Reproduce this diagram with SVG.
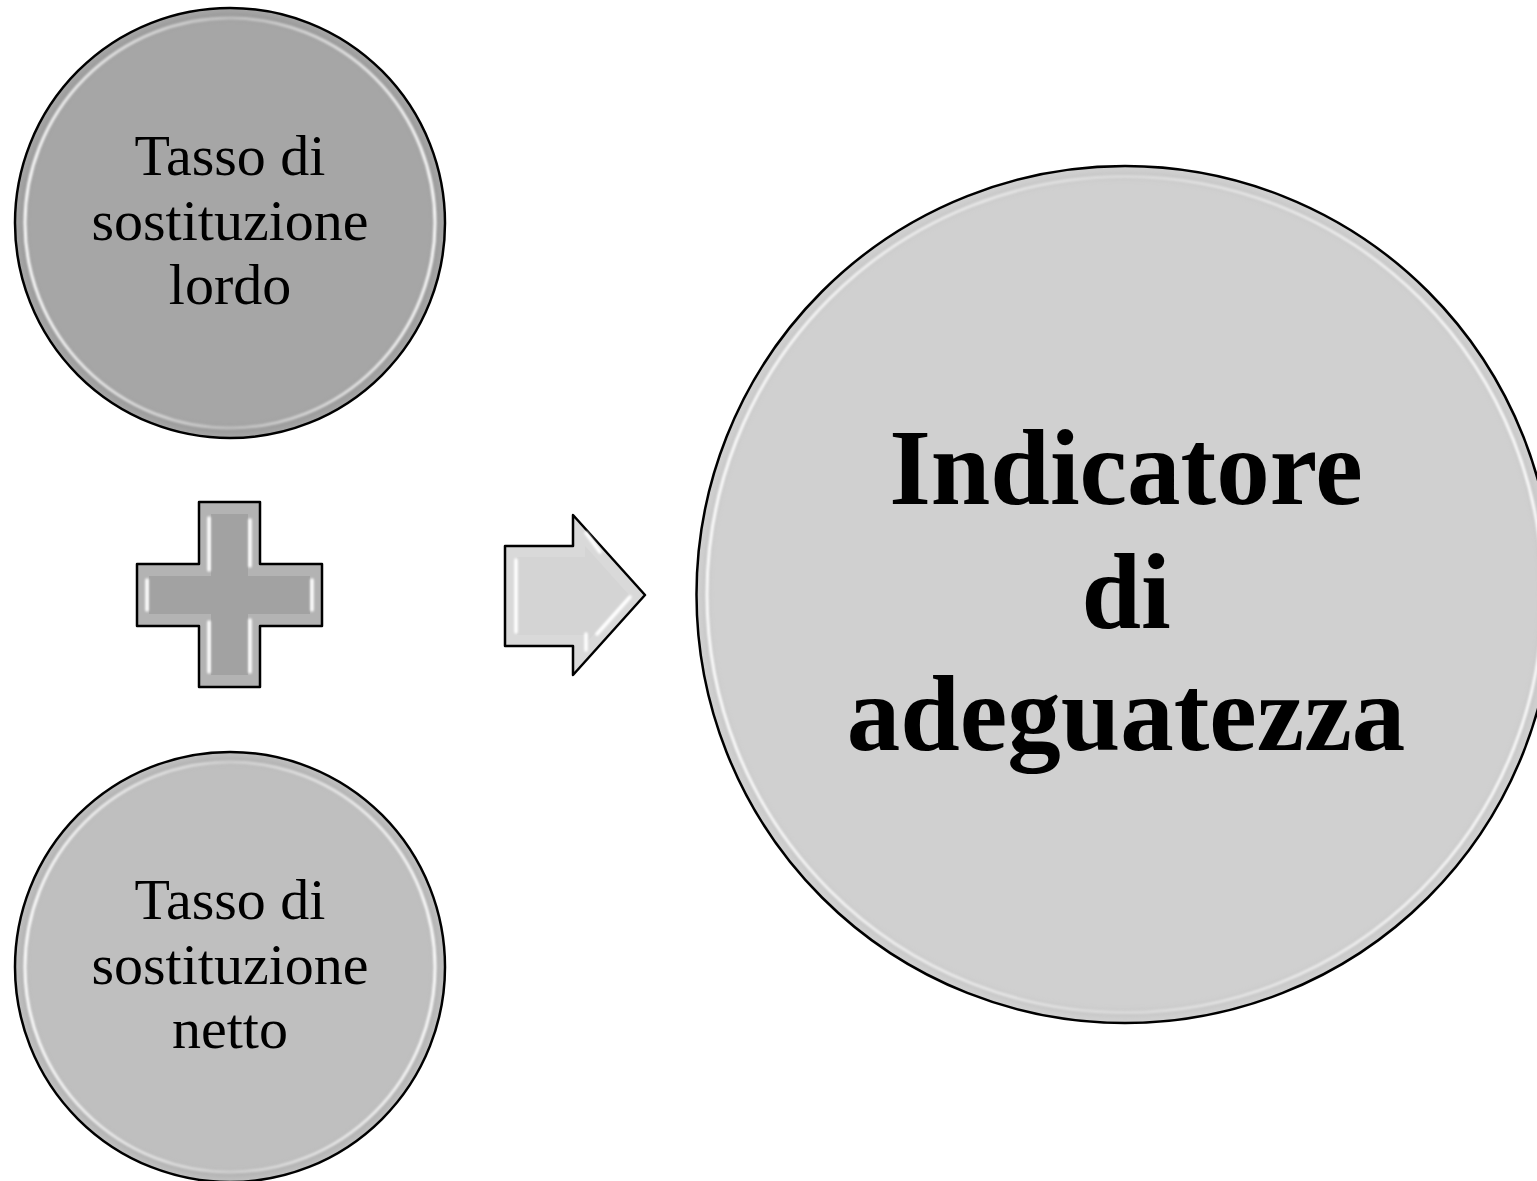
<svg xmlns="http://www.w3.org/2000/svg" width="1537" height="1181" viewBox="0 0 1537 1181">
  <style>
    .edge { stroke: #000; stroke-width: 2.5; }
    .small { font-family: "Palatino Linotype", "Book Antiqua", Palatino, "Liberation Serif", serif; font-size: 58px; fill: #000; text-anchor: middle; }
    .big { font-family: "Palatino Linotype", "Book Antiqua", Palatino, "Liberation Serif", serif; font-size: 107px; font-weight: bold; fill: #000; text-anchor: middle; }
    .shine { fill: none; stroke: url(#ringGrad); filter: url(#glow); }
    .hl { stroke: #fff; stroke-width: 3.5; stroke-linecap: round; filter: url(#glow); }
  </style>
  <defs>
    <linearGradient id="ringGrad" x1="0" y1="0" x2="1" y2="0">
      <stop offset="0" stop-color="#fff" stop-opacity="0.95"/>
      <stop offset="0.5" stop-color="#fff" stop-opacity="0.35"/>
      <stop offset="1" stop-color="#fff" stop-opacity="0.95"/>
    </linearGradient>
    <filter id="glow" filterUnits="userSpaceOnUse" x="0" y="0" width="1537" height="1181">
      <feGaussianBlur stdDeviation="1.1"/>
    </filter>
    <filter id="softer" filterUnits="userSpaceOnUse" x="0" y="0" width="1537" height="1181">
      <feGaussianBlur stdDeviation="2.5"/>
    </filter>
  </defs>

  <rect width="1537" height="1181" fill="#fff"/>

  <g id="node-gross">
    <circle cx="230" cy="223" r="215" fill="#a6a6a6" class="edge"/>
    <circle cx="230" cy="223" r="207" fill="none" stroke="#8e8e8e" stroke-width="5" filter="url(#softer)" opacity="0.6"/>
    <circle cx="230" cy="223" r="205" class="shine" stroke-width="3"/>
    <text class="small" x="230" y="175">Tasso di</text>
    <text class="small" x="230" y="240">sostituzione</text>
    <text class="small" x="230" y="304">lordo</text>
  </g>

  <g id="node-net">
    <circle cx="230" cy="967" r="215" fill="#bfbfbf" class="edge"/>
    <circle cx="230" cy="967" r="207" fill="none" stroke="#a5a5a5" stroke-width="5" filter="url(#softer)" opacity="0.6"/>
    <circle cx="230" cy="967" r="205" class="shine" stroke-width="3"/>
    <text class="small" x="230" y="919">Tasso di</text>
    <text class="small" x="230" y="984">sostituzione</text>
    <text class="small" x="230" y="1048">netto</text>
  </g>

  <g id="operator-plus">
    <path d="M199,502 H260 V564 H322 V626 H260 V687 H199 V626 H137 V564 H199 Z" fill="#b3b3b3" class="edge" stroke-linejoin="round"/>
    <path d="M211,514 H248 V576 H310 V614 H248 V675 H211 V614 H149 V576 H211 Z" fill="#a2a2a2"/>
    <line class="hl" x1="209" y1="518" x2="209" y2="570"/>
    <line class="hl" x1="250" y1="520" x2="250" y2="566"/>
    <line class="hl" x1="209" y1="622" x2="209" y2="672"/>
    <line class="hl" x1="250" y1="620" x2="250" y2="672"/>
    <line class="hl" x1="147" y1="580" x2="147" y2="610"/>
    <line class="hl" x1="312" y1="580" x2="312" y2="610"/>
  </g>

  <g id="connectors">
    <path d="M505,546 H573 V515 L645,595 L573,675 V646 H505 Z" fill="#d9d9d9" class="edge" stroke-linejoin="round"/>
    <path d="M517,557 H585 V546 L629,595 L585,644 V635 H517 Z" fill="#d4d4d4"/>
    <line class="hl" x1="516" y1="560" x2="516" y2="632"/>
    <line class="hl" x1="586" y1="533" x2="600" y2="552"/>
    <line class="hl" x1="630" y1="597" x2="597" y2="634"/>
    <line class="hl" x1="586" y1="634" x2="586" y2="650"/>
  </g>

  <g id="node-indicator">
    <circle cx="1125" cy="594.5" r="428.5" fill="#d0d0d0" class="edge"/>
    <circle cx="1125" cy="594.5" r="419" fill="none" stroke="#bdbdbd" stroke-width="6" filter="url(#softer)" opacity="0.6"/>
    <circle cx="1125" cy="594.5" r="418" class="shine" stroke-width="3"/>
    <text class="big" x="1126" y="504">Indicatore</text>
    <text class="big" x="1126" y="628">di</text>
    <text class="big" x="1126" y="750">adeguatezza</text>
  </g>
</svg>
